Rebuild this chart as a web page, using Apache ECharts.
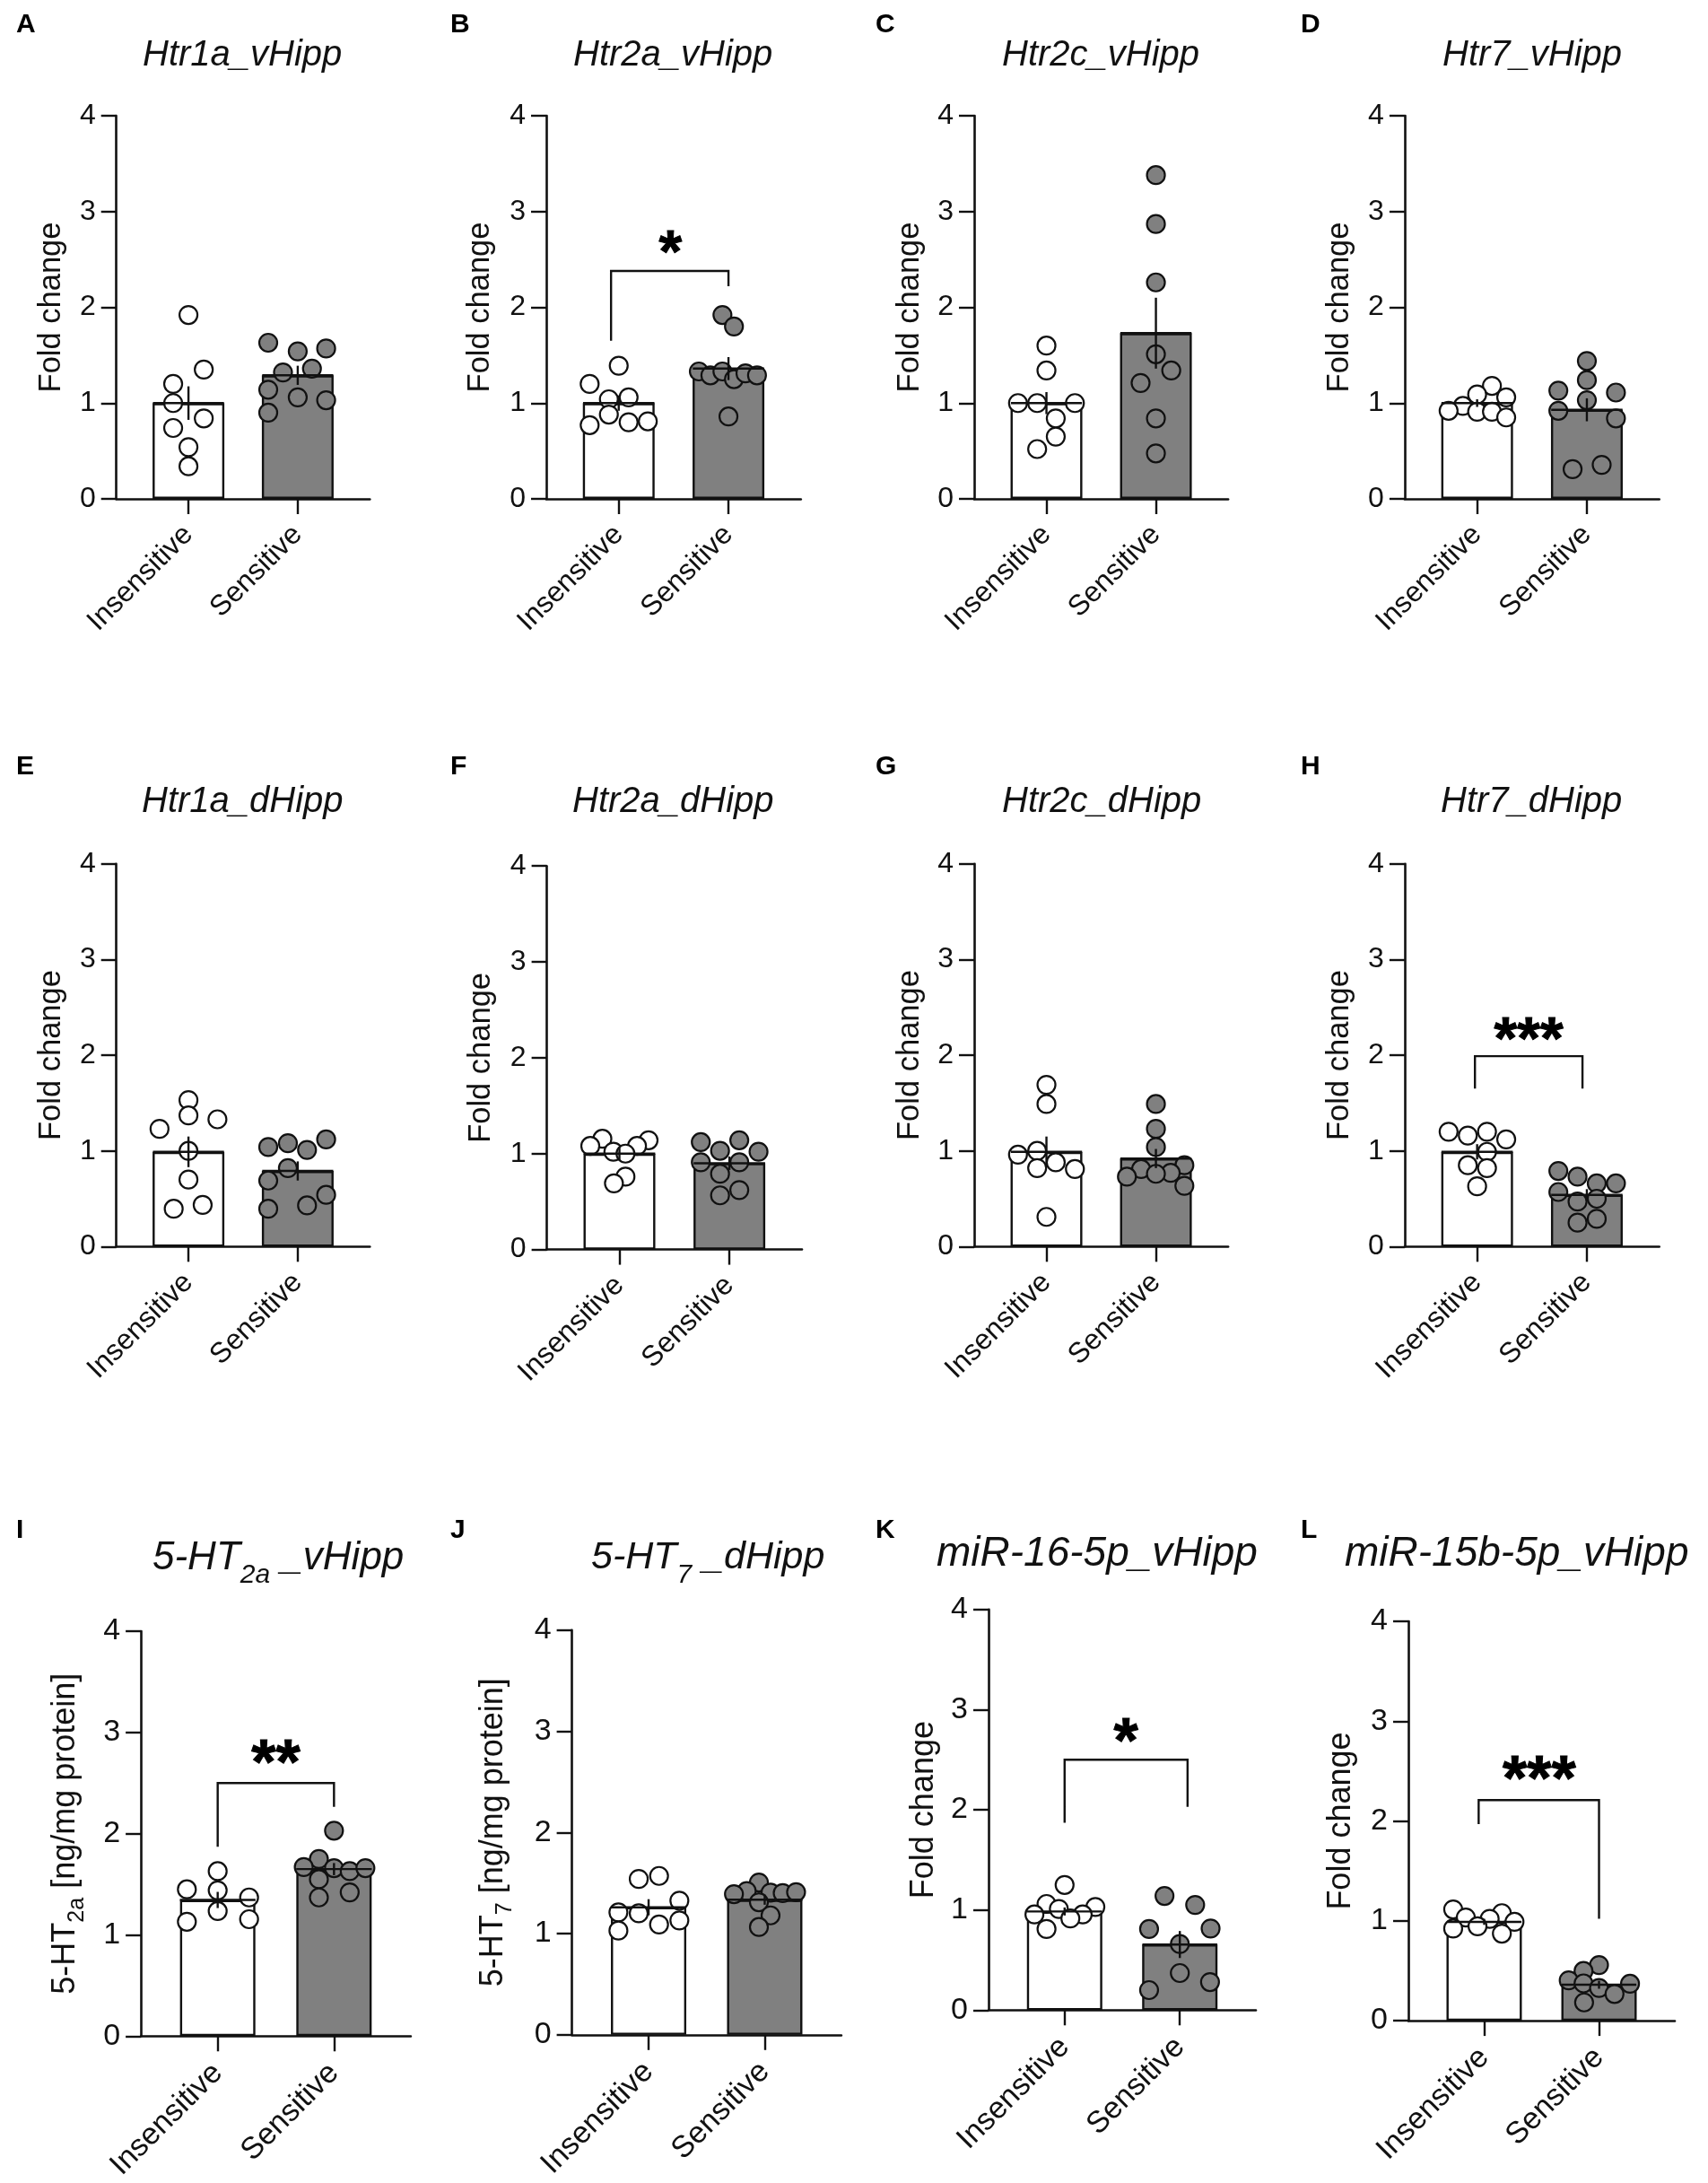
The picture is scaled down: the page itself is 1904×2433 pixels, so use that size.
<!DOCTYPE html>
<html>
<head>
<meta charset="utf-8">
<script src="https://cdn.jsdelivr.net/npm/echarts@6/dist/echarts.min.js"></script>
<style>
  html, body { margin: 0; padding: 0; background: #fff; }
  #main { width: 1904px; height: 2433px; }
</style>
</head>
<body>
<div id="main"></div>
<script>
const categories = ['Insensitive', 'Sensitive'];
const yTicks = [0, 1, 2, 3, 4];

// points, insensitive then sensitive
const htr1aVIns = [1.92, 1.35, 1.20, 1.0, 0.84, 0.74, 0.54, 0.34];
const htr1aVSen = [1.63, 1.54, 1.57, 1.32, 1.36, 1.14, 1.06, 1.03, 0.90];
const htr2aVIns = [1.39, 1.20, 1.04, 1.06, 0.88, 0.77, 0.80, 0.81];
const htr2aVSen = [1.92, 1.80, 1.33, 1.29, 1.33, 1.25, 1.31, 1.29, 0.86];
const htr2cVIns = [1.60, 1.34, 1.0, 1.0, 1.0, 0.84, 0.65, 0.52];
const htr2cVSen = [3.38, 2.87, 2.26, 1.51, 1.34, 1.21, 0.84, 0.475];
const htr7VIns = [1.18, 1.09, 1.06, 0.97, 0.92, 0.91, 0.91, 0.85];
const htr7VSen = [1.44, 1.24, 1.13, 1.11, 1.03, 0.92, 0.84, 0.355, 0.31];
const htr1aDIns = [1.53, 1.37, 1.33, 1.23, 1.0, 0.70, 0.435, 0.395];
const htr1aDSen = [1.12, 1.08, 1.04, 1.01, 0.82, 0.69, 0.54, 0.43, 0.395];
const htr2aDIns = [1.155, 1.14, 1.08, 1.08, 1.02, 1.0, 0.76, 0.69];
const htr2aDSen = [1.12, 1.14, 1.03, 1.02, 0.91, 0.91, 0.79, 0.62, 0.565];
const htr2cDIns = [1.69, 1.49, 1.0, 0.96, 0.88, 0.82, 0.81, 0.31];
const htr2cDSen = [1.49, 1.23, 1.04, 0.85, 0.81, 0.77, 0.76, 0.73, 0.635];
const htr7DIns = [1.20, 1.20, 1.16, 1.12, 0.99, 0.85, 0.82, 0.63];
const htr7DSen = [0.79, 0.73, 0.66, 0.66, 0.57, 0.47, 0.50, 0.29, 0.25];
const ht2aVIns = [1.63, 1.45, 1.44, 1.37, 1.235, 1.13, 1.155];
const ht2aVSen = [2.03, 1.75, 1.67, 1.66, 1.63, 1.66, 1.55, 1.42, 1.37];
const ht7DIns = [1.57, 1.54, 1.325, 1.21, 1.20, 1.13, 1.09, 1.03];
const ht7DSen = [1.505, 1.42, 1.39, 1.405, 1.40, 1.41, 1.31, 1.18, 1.065];
const mir16VIns = [1.25, 1.06, 1.01, 1.03, 0.955, 0.955, 0.915, 0.81];
const mir16VSen = [1.14, 1.05, 0.81, 0.815, 0.66, 0.37, 0.28, 0.20];
const mir15bVIns = [1.115, 1.077, 1.034, 1.02, 0.99, 0.945, 0.923, 0.872];
const mir15bVSen = [0.557, 0.498, 0.404, 0.37, 0.374, 0.328, 0.268, 0.183];

// mean and sem per group
const htr1aVMean = [1.0, 1.29],  htr1aVSem = [0.175, 0.10];
const htr2aVMean = [1.0, 1.36],  htr2aVSem = [0.08, 0.12];
const htr2cVMean = [1.0, 1.73],  htr2cVSem = [0.115, 0.37];
const htr7VMean = [1.0, 0.93],   htr7VSem = [0.04, 0.12];
const htr1aDMean = [0.99, 0.79], htr1aDSem = [0.16, 0.10];
const htr2aDMean = [1.0, 0.90],  htr2aDSem = [0.07, 0.07];
const htr2cDMean = [0.99, 0.92], htr2cDSem = [0.16, 0.10];
const htr7DMean = [0.99, 0.54],  htr7DSem = [0.08, 0.06];
const ht2aVMean = [1.345, 1.65], ht2aVSem = [0.08, 0.06];
const ht7DMean = [1.26, 1.335],  ht7DSem = [0.08, 0.05];
const mir16VMean = [0.985, 0.655], mir16VSem = [0.04, 0.135];
const mir15bVMean = [0.99, 0.36],  mir15bVSem = [0.03, 0.04];

// swarm offsets of the points, in x axis units
const htr1aVInsX = [0, 0.14, -0.14, -0.14, 0.14, -0.14, 0, 0];
const htr1aVSenX = [-0.27, 0, 0.26, -0.135, 0.13, -0.27, 0, 0.26, -0.27];
const htr2aVInsX = [0, -0.265, -0.09, 0.09, -0.09, -0.265, 0.09, 0.265];
const htr2aVSenX = [-0.055, 0.05, -0.27, -0.165, -0.055, 0.05, 0.155, 0.26, 0];
const htr2cVInsX = [0, 0, -0.26, -0.085, 0.26, 0.085, 0.085, -0.085];
const htr2cVSenX = [0, 0, 0, 0, 0.14, -0.14, 0, 0];
const htr7VInsX = [0.135, 0, 0.265, -0.13, -0.26, 0, 0.135, 0.265];
const htr7VSenX = [0, 0, -0.26, 0.265, 0, -0.26, 0.265, 0.135, -0.13];
const htr1aDInsX = [0, 0, 0.265, -0.265, 0, 0, 0.13, -0.135];
const htr1aDSenX = [0.26, -0.09, -0.27, 0.085, -0.09, -0.27, 0.26, 0.085, -0.27];
const htr2aDInsX = [-0.155, 0.265, -0.265, 0.16, -0.055, 0.055, 0.055, -0.05];
const htr2aDSenX = [-0.26, 0.09, -0.085, 0.265, -0.26, 0.09, -0.085, 0.09, -0.085];
const htr2cDInsX = [0, 0, -0.085, -0.26, 0.085, -0.085, 0.26, 0];
const htr2cDSenX = [0, 0, 0, 0.26, -0.135, 0.135, 0, -0.265, 0.26];
const htr7DInsX = [-0.26, 0.09, -0.085, 0.265, 0.09, -0.085, 0.09, 0];
const htr7DSenX = [-0.26, -0.085, 0.09, 0.265, -0.26, -0.085, 0.09, 0.09, -0.085];
const ht2aVInsX = [0, -0.265, 0, 0.27, 0, -0.265, 0.27];
const ht2aVSenX = [0, -0.13, -0.26, 0, 0.135, 0.27, -0.13, 0.135, -0.13];
const ht7DInsX = [0.09, -0.085, 0.265, -0.26, -0.085, 0.265, 0.09, -0.26];
const ht7DSenX = [-0.05, -0.155, -0.265, 0.05, 0.155, 0.27, -0.05, 0.05, -0.05];
const mir16VInsX = [0, -0.157, -0.05, 0.267, -0.262, 0.157, 0.05, -0.157];
const mir16VSenX = [-0.133, 0.133, -0.267, 0.267, 0, 0, 0.262, -0.267];
const mir15bVInsX = [-0.27, 0.154, -0.16, 0.048, 0.264, -0.058, -0.27, 0.154];
const mir15bVSenX = [0, -0.135, -0.264, 0.27, -0.135, 0, 0.135, -0.13];

const foldChange = 'Fold change';
const panels = [
  { letter: 'A', lx: 18,   ly: 13,  title: 'Htr1a_vHipp', tx: 159,  ty: 42, left: 129.7,  right: 412.3,  top: 129,    bottom: 556,    gap: 55, ins: htr1aVIns, sen: htr1aVSen, insX: htr1aVInsX, senX: htr1aVSenX, mean: htr1aVMean, sem: htr1aVSem },
  { letter: 'B', lx: 502,  ly: 13,  title: 'Htr2a_vHipp', tx: 639,  ty: 42, left: 609,    right: 892.8,  top: 129,    bottom: 556,    gap: 56, ins: htr2aVIns, sen: htr2aVSen, insX: htr2aVInsX, senX: htr2aVSenX, mean: htr2aVMean, sem: htr2aVSem,
    bracket: [-0.07, 1, 2.38, 1.65, 2.22], stars: '*', starAt: [0.47, 2.65] },
  { letter: 'C', lx: 976,  ly: 13,  title: 'Htr2c_vHipp', tx: 1117, ty: 42, left: 1086,   right: 1369.1, top: 129,    bottom: 556,    gap: 54, ins: htr2cVIns, sen: htr2cVSen, insX: htr2cVInsX, senX: htr2cVSenX, mean: htr2cVMean, sem: htr2cVSem },
  { letter: 'D', lx: 1450, ly: 13,  title: 'Htr7_vHipp',  tx: 1608, ty: 42, left: 1565.9, right: 1849.7, top: 129,    bottom: 556,    gap: 55, ins: htr7VIns,  sen: htr7VSen,  insX: htr7VInsX,  senX: htr7VSenX,  mean: htr7VMean,  sem: htr7VSem },
  { letter: 'E', lx: 18,   ly: 840, title: 'Htr1a_dHipp', tx: 158,  ty: 874, left: 129.7,  right: 412.3,  top: 962.8,  bottom: 1389.3, gap: 55, ins: htr1aDIns, sen: htr1aDSen, insX: htr1aDInsX, senX: htr1aDSenX, mean: htr1aDMean, sem: htr1aDSem },
  { letter: 'F', lx: 502,  ly: 840, title: 'Htr2a_dHipp', tx: 638,  ty: 874, left: 609.6,  right: 894,    top: 965.2,  bottom: 1392.6, gap: 56, ins: htr2aDIns, sen: htr2aDSen, insX: htr2aDInsX, senX: htr2aDSenX, mean: htr2aDMean, sem: htr2aDSem },
  { letter: 'G', lx: 976,  ly: 840, title: 'Htr2c_dHipp', tx: 1117, ty: 874, left: 1086,   right: 1369.1, top: 962.8,  bottom: 1389.3, gap: 54, ins: htr2cDIns, sen: htr2cDSen, insX: htr2cDInsX, senX: htr2cDSenX, mean: htr2cDMean, sem: htr2cDSem },
  { letter: 'H', lx: 1450, ly: 840, title: 'Htr7_dHipp',  tx: 1606, ty: 874, left: 1565.9, right: 1849.7, top: 962.8,  bottom: 1389.3, gap: 55, ins: htr7DIns,  sen: htr7DSen,  insX: htr7DInsX,  senX: htr7DSenX,  mean: htr7DMean,  sem: htr7DSem,
    bracket: [-0.02, 0.96, 1.99, 1.65, 1.65], stars: '***', starAt: [0.47, 2.25] },
  { letter: 'I', lx: 18,   ly: 1691, title: '{t|5-HT}{s|2a}{t| _vHipp}', tx: 170,  ty: 1715, titleSize: 44, left: 157.1,  right: 457.9,  top: 1818.1, bottom: 2269.7, gap: 58, big: true, yName: '{n|5-HT}{u|2a}{n| [ng/mg protein]}', ins: ht2aVIns, sen: ht2aVSen, insX: ht2aVInsX, senX: ht2aVSenX, mean: ht2aVMean, sem: ht2aVSem,
    bracket: [0, 1, 2.5, 1.87, 2.265], stars: '**', starAt: [0.5, 2.77] },
  { letter: 'J', lx: 502,  ly: 1691, title: '{t|5-HT}{s|7}{t| _dHipp}', tx: 659,  ty: 1715, titleSize: 43, left: 637.6,  right: 937.9,  top: 1816.7, bottom: 2267.8, gap: 62, big: true, yName: '{n|5-HT}{u|7}{n| [ng/mg protein]}', ins: ht7DIns, sen: ht7DSen, insX: ht7DInsX, senX: ht7DSenX, mean: ht7DMean, sem: ht7DSem },
  { letter: 'K', lx: 976,  ly: 1691, title: 'miR-16-5p_vHipp', tx: 1044, ty: 1709, titleSize: 46, left: 1102,   right: 1400,   top: 1793.9, bottom: 2240.3, gap: 54, big: true, ins: mir16VIns, sen: mir16VSen, insX: mir16VInsX, senX: mir16VSenX, mean: mir16VMean, sem: mir16VSem,
    bracket: [0, 1.067, 2.5, 1.87, 2.03], stars: '*', starAt: [0.533, 2.76] },
  { letter: 'L', lx: 1450, ly: 1691, title: 'miR-15b-5p_vHipp', tx: 1499, ty: 1709, titleSize: 46, left: 1570,   right: 1867,   top: 1807,   bottom: 2252.1, gap: 57, big: true, ins: mir15bVIns, sen: mir15bVSen, insX: mir15bVInsX, senX: mir15bVSenX, mean: mir15bVMean, sem: mir15bVSem,
    bracket: [-0.048, 1, 2.21, 1.97, 1.02], stars: '***', starAt: [0.48, 2.49] }
];

const ink = '#111';
const gray = '#808080';
const font = '"Liberation Sans", Arial, sans-serif';

function zip(xs, ys, base) {
  return ys.map(function (y, i) { return [base + xs[i], y]; });
}

function renderErr(params, api) {
  let x = api.value(0), m = api.value(1), s = api.value(2);
  let a = api.coord([x - 0.325, m]), b = api.coord([x + 0.325, m]);
  let hi = api.coord([x, m + s]), lo = api.coord([x, m - s]);
  let style = { stroke: ink, lineWidth: 2.4, fill: null };
  return {
    type: 'group',
    children: [
      { type: 'line', shape: { x1: a[0], y1: a[1], x2: b[0], y2: b[1] }, style: style },
      { type: 'line', shape: { x1: hi[0], y1: hi[1], x2: lo[0], y2: lo[1] }, style: style }
    ]
  };
}

function renderBracket(stars, big) {
  return function (params, api) {
    let x1 = api.value(0), x2 = api.value(1), top = api.value(2);
    let pts = [api.coord([x1, api.value(3)]), api.coord([x1, top]), api.coord([x2, top]), api.coord([x2, api.value(4)])];
    let at = api.coord([api.value(5), api.value(6)]);
    return {
      type: 'group',
      children: [
        { type: 'polyline', shape: { points: pts }, style: { stroke: ink, lineWidth: 2.4, fill: null } },
        // the asterisk glyph sits high in its line box, hence the shift
        { type: 'text', x: at[0], y: at[1] + 12, style: {
            text: stars, fill: '#000', stroke: '#000', lineWidth: 1, align: 'center', verticalAlign: 'middle',
            font: 'bold ' + (big ? 70 : 66) + 'px ' + font } }
      ]
    };
  };
}

let titles = [], grids = [], xAxes = [], yAxes = [], series = [];

panels.forEach(function (p, i) {
  let labelSize = p.big ? 34 : 32;
  let nameSize = p.big ? 36 : 34.5;
  let tickSize = p.big ? 34 : 32;
  let titleSize = p.titleSize || 40;

  titles.push({ text: p.letter, left: p.lx, top: p.ly, padding: 0,
    textStyle: { fontFamily: font, fontWeight: 'bold', fontSize: 30, color: '#000' } });
  titles.push({ text: p.title, left: p.tx, top: p.ty, padding: 0,
    textStyle: { fontFamily: font, fontStyle: 'italic', fontWeight: 'normal', fontSize: titleSize, color: '#111',
      rich: {
        t: { fontFamily: font, fontStyle: 'italic', fontSize: titleSize, color: '#111', lineHeight: 56, verticalAlign: 'top' },
        s: { fontFamily: font, fontStyle: 'italic', fontSize: 30, color: '#111', lineHeight: 56, verticalAlign: 'bottom' }
      } } });

  grids.push({ left: p.left, width: p.right - p.left, top: p.top, height: p.bottom - p.top, containLabel: false });

  xAxes.push({
    gridIndex: i, type: 'value', min: -0.66, max: 1.66,
    splitLine: { show: false },
    axisLine: { show: true, onZero: false, lineStyle: { color: ink, width: 2.6 } },
    axisTick: { show: true, length: 17, customValues: [0, 1], lineStyle: { color: ink, width: 2.4 } },
    axisLabel: { show: true, customValues: [0, 1], rotate: 45, margin: p.big ? 36 : 35, fontFamily: font, fontSize: labelSize, color: '#111',
      formatter: function (v) { return categories[v]; } }
  });
  yAxes.push({
    gridIndex: i, type: 'value', min: yTicks[0], max: yTicks[yTicks.length - 1], interval: 1,
    name: p.yName || foldChange, nameLocation: 'middle', nameGap: p.gap, nameRotate: 90, nameMoveOverlap: false,
    nameTextStyle: { fontFamily: font, fontSize: nameSize, color: '#111',
      rich: {
        n: { fontFamily: font, fontSize: nameSize, color: '#111', lineHeight: 44, verticalAlign: 'top' },
        u: { fontFamily: font, fontSize: 25, color: '#111', lineHeight: 44, verticalAlign: 'bottom' }
      } },
    splitLine: { show: false },
    axisLine: { show: true, onZero: false, lineStyle: { color: ink, width: 2.6 } },
    axisTick: { show: true, length: 17, lineStyle: { color: ink, width: 2.4 } },
    axisLabel: { margin: 23, fontFamily: font, fontSize: tickSize, color: '#111' }
  });

  let barPx = p.big ? 84 : 80;
  series.push({
    type: 'bar', xAxisIndex: i, yAxisIndex: i, barWidth: barPx, z: 1, silent: true,
    data: [
      { value: [0, p.mean[0]], itemStyle: { color: '#fff', borderColor: ink, borderWidth: 2.4 } },
      { value: [1, p.mean[1]], itemStyle: { color: gray, borderColor: ink, borderWidth: 2.4 } }
    ]
  });
  series.push({
    type: 'scatter', xAxisIndex: i, yAxisIndex: i, z: 3, symbolSize: 20, silent: true,
    itemStyle: { color: '#fff', borderColor: ink, borderWidth: 2.2, opacity: 1 },
    data: zip(p.insX, p.ins, 0)
  });
  series.push({
    type: 'scatter', xAxisIndex: i, yAxisIndex: i, z: 3, symbolSize: 20, silent: true,
    itemStyle: { color: gray, borderColor: ink, borderWidth: 2.2, opacity: 1 },
    data: zip(p.senX, p.sen, 1)
  });
  series.push({
    type: 'custom', xAxisIndex: i, yAxisIndex: i, z: 4, silent: true, renderItem: renderErr,
    data: [[0, p.mean[0], p.sem[0]], [1, p.mean[1], p.sem[1]]]
  });
  if (p.bracket) {
    series.push({
      type: 'custom', xAxisIndex: i, yAxisIndex: i, z: 4, silent: true,
      renderItem: renderBracket(p.stars, p.big),
      data: [p.bracket.concat(p.starAt)]
    });
  }
});

let chart = echarts.init(document.getElementById('main'));
chart.setOption({
  backgroundColor: '#fff',
  animation: false,
  title: titles,
  grid: grids,
  xAxis: xAxes,
  yAxis: yAxes,
  series: series
});
</script>
</body>
</html>
